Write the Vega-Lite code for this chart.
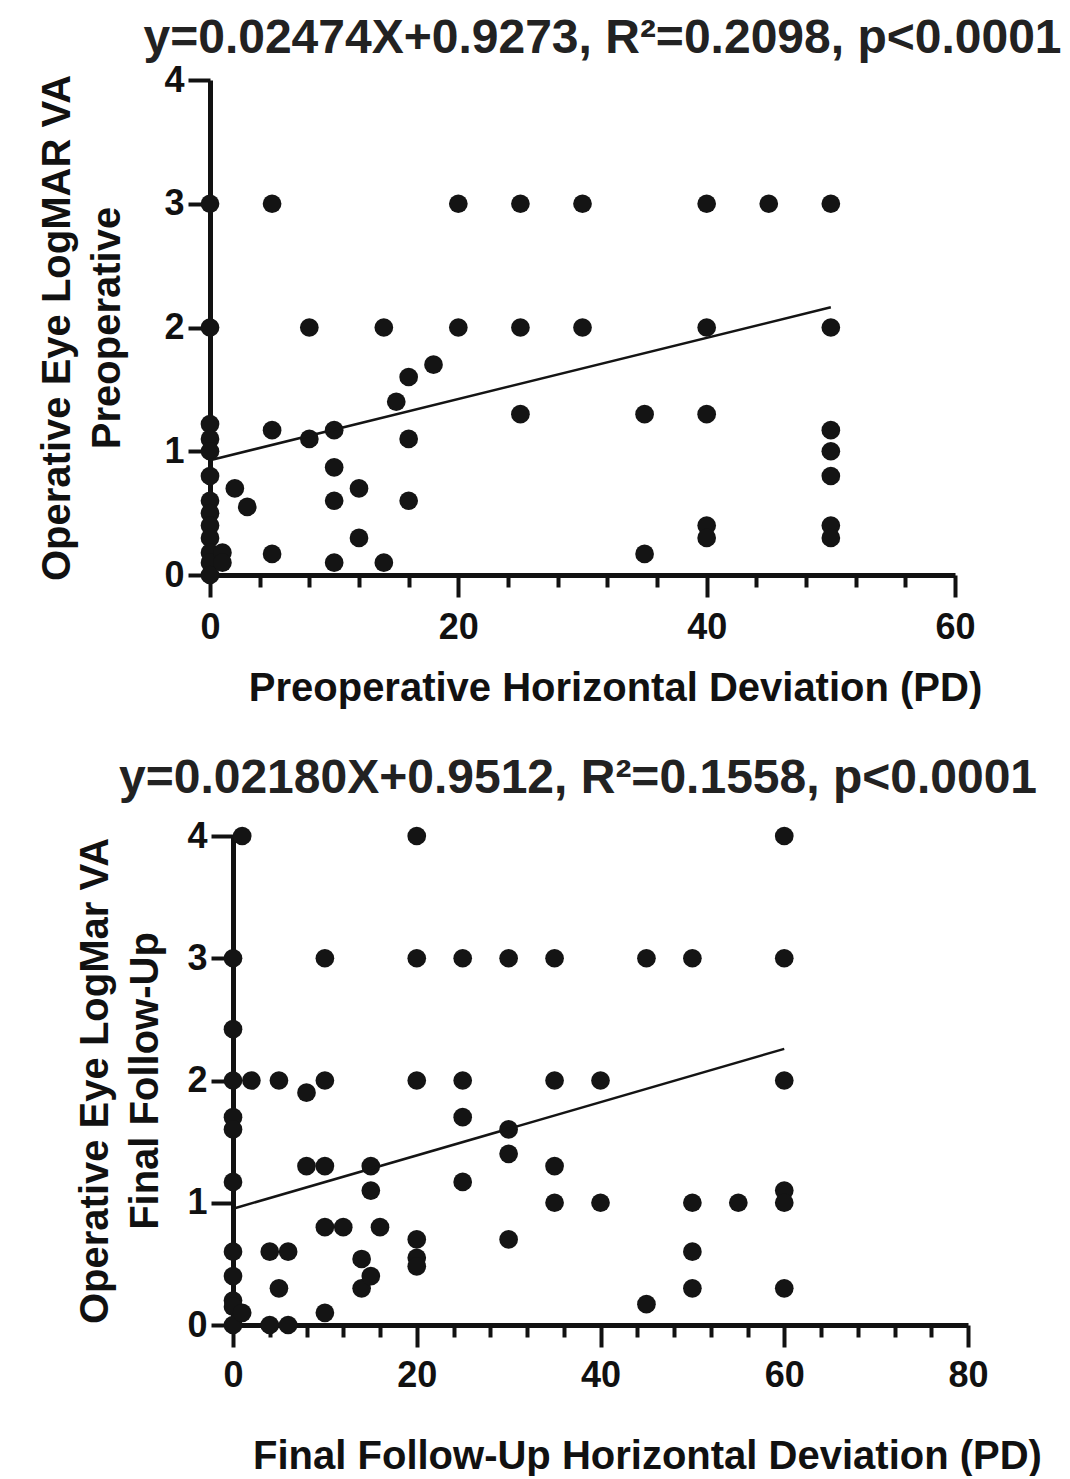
{
  "$schema": "https://vega.github.io/schema/vega-lite/v6.json",
  "background": "white",
  "padding": {"left": 37, "top": 15, "right": 5, "bottom": 0},
  "config": {
    "view": {"stroke": null},
    "font": "Liberation Sans",
    "axis": {
      "domainColor": "#111111", "domainWidth": 5, "tickColor": "#111111", "tickWidth": 4,
      "labelFont": "Liberation Sans", "labelFontWeight": "bold", "labelFontSize": 36, "labelColor": "#111111",
      "titleFont": "Liberation Sans", "titleFontWeight": "bold", "titleFontSize": 40, "titleColor": "#111111",
      "grid": false, "labelFlush": false, "labelOverlap": false
    },
    "title": {"font": "Liberation Sans", "fontWeight": "bold", "fontSize": 48, "color": "#222222"}
  },
  "datasets": {
    "pre": [
      {"x": 0, "y": 3}, {"x": 0, "y": 2}, {"x": 0, "y": 1.22}, {"x": 0, "y": 1.1}, {"x": 0, "y": 1.0},
      {"x": 0, "y": 0.8}, {"x": 0, "y": 0.6}, {"x": 0, "y": 0.5}, {"x": 0, "y": 0.4}, {"x": 0, "y": 0.3},
      {"x": 0, "y": 0.18}, {"x": 0, "y": 0.1}, {"x": 0, "y": 0},
      {"x": 1, "y": 0.18}, {"x": 1, "y": 0.1},
      {"x": 2, "y": 0.7}, {"x": 3, "y": 0.55},
      {"x": 5, "y": 3}, {"x": 5, "y": 1.17}, {"x": 5, "y": 0.17},
      {"x": 8, "y": 2}, {"x": 8, "y": 1.1},
      {"x": 10, "y": 1.17}, {"x": 10, "y": 0.87}, {"x": 10, "y": 0.6}, {"x": 10, "y": 0.1},
      {"x": 12, "y": 0.7}, {"x": 12, "y": 0.3},
      {"x": 14, "y": 2}, {"x": 14, "y": 0.1},
      {"x": 15, "y": 1.4},
      {"x": 16, "y": 1.6}, {"x": 16, "y": 1.1}, {"x": 16, "y": 0.6},
      {"x": 18, "y": 1.7},
      {"x": 20, "y": 3}, {"x": 20, "y": 2},
      {"x": 25, "y": 3}, {"x": 25, "y": 2}, {"x": 25, "y": 1.3},
      {"x": 30, "y": 3}, {"x": 30, "y": 2},
      {"x": 35, "y": 1.3}, {"x": 35, "y": 0.17},
      {"x": 40, "y": 3}, {"x": 40, "y": 2}, {"x": 40, "y": 1.3}, {"x": 40, "y": 0.4}, {"x": 40, "y": 0.3},
      {"x": 45, "y": 3},
      {"x": 50, "y": 3}, {"x": 50, "y": 2}, {"x": 50, "y": 1.17}, {"x": 50, "y": 1.0}, {"x": 50, "y": 0.8}, {"x": 50, "y": 0.4}, {"x": 50, "y": 0.3}
    ],
    "preFit": [{"x": 0, "y": 0.9273}, {"x": 50, "y": 2.164}],
    "post": [
      {"x": 0, "y": 3}, {"x": 0, "y": 2.42}, {"x": 0, "y": 2}, {"x": 0, "y": 1.7}, {"x": 0, "y": 1.6},
      {"x": 0, "y": 1.17}, {"x": 0, "y": 0.6}, {"x": 0, "y": 0.4}, {"x": 0, "y": 0.2}, {"x": 0, "y": 0.15}, {"x": 0, "y": 0},
      {"x": 1, "y": 4}, {"x": 1, "y": 0.1},
      {"x": 2, "y": 2},
      {"x": 4, "y": 0.6}, {"x": 4, "y": 0},
      {"x": 5, "y": 2}, {"x": 5, "y": 0.3},
      {"x": 6, "y": 0.6}, {"x": 6, "y": 0},
      {"x": 8, "y": 1.9}, {"x": 8, "y": 1.3},
      {"x": 10, "y": 3}, {"x": 10, "y": 2}, {"x": 10, "y": 1.3}, {"x": 10, "y": 0.8}, {"x": 10, "y": 0.1},
      {"x": 12, "y": 0.8},
      {"x": 14, "y": 0.54}, {"x": 14, "y": 0.3},
      {"x": 15, "y": 1.3}, {"x": 15, "y": 1.1}, {"x": 15, "y": 0.4},
      {"x": 16, "y": 0.8},
      {"x": 20, "y": 4}, {"x": 20, "y": 3}, {"x": 20, "y": 2}, {"x": 20, "y": 0.7}, {"x": 20, "y": 0.55}, {"x": 20, "y": 0.48},
      {"x": 25, "y": 3}, {"x": 25, "y": 2}, {"x": 25, "y": 1.7}, {"x": 25, "y": 1.17},
      {"x": 30, "y": 3}, {"x": 30, "y": 1.6}, {"x": 30, "y": 1.4}, {"x": 30, "y": 0.7},
      {"x": 35, "y": 3}, {"x": 35, "y": 2}, {"x": 35, "y": 1.3}, {"x": 35, "y": 1.0},
      {"x": 40, "y": 2}, {"x": 40, "y": 1.0},
      {"x": 45, "y": 3}, {"x": 45, "y": 0.17},
      {"x": 50, "y": 3}, {"x": 50, "y": 1.0}, {"x": 50, "y": 0.6}, {"x": 50, "y": 0.3},
      {"x": 55, "y": 1.0},
      {"x": 60, "y": 4}, {"x": 60, "y": 3}, {"x": 60, "y": 2}, {"x": 60, "y": 1.1}, {"x": 60, "y": 1.0}, {"x": 60, "y": 0.3}
    ],
    "postFit": [{"x": 0, "y": 0.9512}, {"x": 60, "y": 2.259}]
  },
  "spacing": 47,
  "vconcat": [
    {
      "width": 745,
      "height": 495,
      "title": {"text": "y=0.02474X+0.9273, R²=0.2098, p<0.0001", "dx": 20, "offset": -1},
      "encoding": {
        "x": {
          "field": "x", "type": "quantitative",
          "scale": {"domain": [0, 60], "nice": false, "zero": false},
          "axis": {
            "values": [0, 4, 8, 12, 16, 20, 24, 28, 32, 36, 40, 44, 48, 52, 56, 60],
            "labelExpr": "datum.value % 20 === 0 ? datum.label : ''",
            "tickSize": {"condition": {"test": "datum.value % 20 === 0", "value": 22}, "value": 12},
            "labelPadding": 13,
            "title": "Preoperative Horizontal Deviation (PD)",
            "titleX": 405, "titleY": 125, "titleBaseline": "alphabetic"
          }
        },
        "y": {
          "field": "y", "type": "quantitative",
          "scale": {"domain": [0, 4], "nice": false},
          "axis": {
            "values": [0, 1, 2, 3, 4],
            "tickSize": 22,
            "labelPadding": 4,
            "title": ["Operative Eye LogMAR VA", "Preoperative"],
            "titleLineHeight": 50,
            "titlePadding": 36
          }
        }
      },
      "layer": [
        {"data": {"name": "pre"}, "mark": {"type": "circle", "size": 350, "opacity": 1, "color": "#141414", "clip": false}},
        {"data": {"name": "preFit"}, "mark": {"type": "line", "color": "#141414", "strokeWidth": 2.5}}
      ]
    },
    {
      "width": 758,
      "height": 489,
      "title": {"text": "y=0.02180X+0.9512, R²=0.1558, p<0.0001", "dx": -11, "offset": 15},
      "encoding": {
        "x": {
          "field": "x", "type": "quantitative",
          "scale": {"domain": [0, 80], "nice": false, "zero": false, "range": [23, 758]},
          "axis": {
            "values": [0, 4, 8, 12, 16, 20, 24, 28, 32, 36, 40, 44, 48, 52, 56, 60, 64, 68, 72, 76, 80],
            "labelExpr": "datum.value % 20 === 0 ? datum.label : ''",
            "tickSize": {"condition": {"test": "datum.value % 20 === 0", "value": 22}, "value": 12},
            "labelPadding": 11,
            "title": "Final Follow-Up Horizontal Deviation (PD)",
            "titleX": 437, "titleY": 143, "titleBaseline": "alphabetic"
          }
        },
        "y": {
          "field": "y", "type": "quantitative",
          "scale": {"domain": [0, 4], "nice": false},
          "axis": {
            "values": [0, 1, 2, 3, 4],
            "offset": -23,
            "tickSize": 22,
            "labelPadding": 4,
            "title": ["Operative Eye LogMar VA", "Final Follow-Up"],
            "titleLineHeight": 50,
            "titlePadding": 21
          }
        }
      },
      "layer": [
        {"data": {"name": "post"}, "mark": {"type": "circle", "size": 350, "opacity": 1, "color": "#141414", "clip": false}},
        {"data": {"name": "postFit"}, "mark": {"type": "line", "color": "#141414", "strokeWidth": 2.5}}
      ]
    }
  ]
}
